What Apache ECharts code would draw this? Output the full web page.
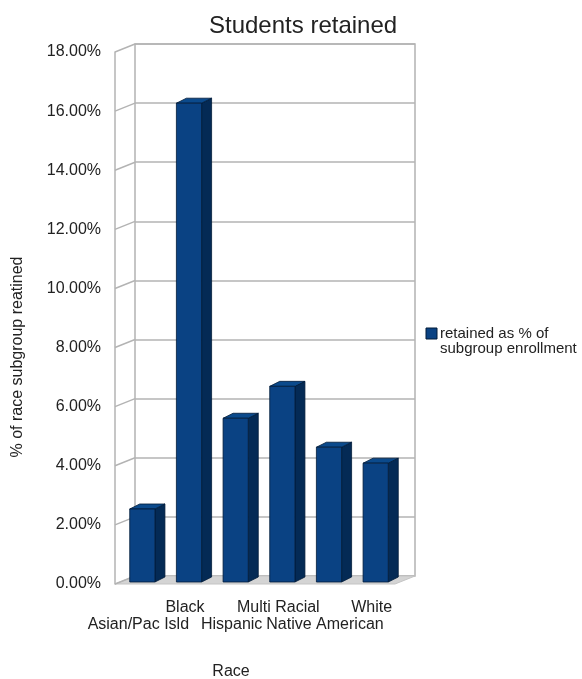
<!DOCTYPE html>
<html>
<head>
<meta charset="utf-8">
<script src="https://cdn.jsdelivr.net/npm/echarts@6/dist/echarts.min.js"></script>
<style>
html,body{margin:0;padding:0;background:#fff;}
#chart{width:582px;height:679px;}
</style>
</head>
<body>
<div id="chart"></div>
<script>
const categories = ['Asian/Pac Isld', 'Black', 'Hispanic', 'Multi Racial', 'Native American', 'White'];
const retainedPct = [2.47, 16.2, 5.54, 6.62, 4.56, 4.02];
const tickValues = [0, 2, 4, 6, 8, 10, 12, 14, 16, 18];
const seriesName = 'retained as % of\nsubgroup enrollment';
const titleText = 'Students retained';
const yAxisTitle = '% of race subgroup reatined';
const xAxisTitle = 'Race';

const FONT = 'Liberation Sans';
const TXT = '#222';
const GRID = '#b3b3b3';
const WALL_DX = 20, WALL_DY = -8;

const chart = echarts.init(document.getElementById('chart'));

function barItem(params, api) {
  const x = api.value(0), v = api.value(1);
  const base = api.coord([x, 0]);
  const top = api.coord([x, v]);
  const bw = api.size([1, 0])[0] * 0.54;
  const ox = 4, oy = -2, dx = 10, dy = -5;
  const l = base[0] - bw / 2 + ox, r = base[0] + bw / 2 + ox;
  const b = base[1] + oy, t = top[1] + oy;
  const stroke = {stroke: '#001a38', lineWidth: 0.8};
  return {
    type: 'group',
    children: [
      {type: 'polygon', shape: {points: [[r, t], [r + dx, t + dy], [r + dx, b + dy], [r, b]]},
       style: Object.assign({fill: '#042a55'}, stroke)},
      {type: 'polygon', shape: {points: [[l, t], [l + dx, t + dy], [r + dx, t + dy], [r, t]]},
       style: Object.assign({fill: '#0b4a8c'}, stroke)},
      {type: 'polygon', shape: {points: [[l, t], [r, t], [r, b], [l, b]]},
       style: Object.assign({fill: '#0a4283'}, stroke)}
    ]
  };
}

function wallItem(params, api) {
  const v = api.value(0);
  const p = api.coord([0, v]);
  const x0 = params.coordSys.x;
  const x1 = params.coordSys.x + params.coordSys.width;
  const children = [
    {type: 'line', shape: {x1: x0, y1: p[1], x2: x0 + WALL_DX, y2: p[1] + WALL_DY},
     style: {stroke: GRID, lineWidth: 1.5}}
  ];
  if (v === 0) {
    children.unshift({type: 'polygon',
      shape: {points: [[x0, p[1]], [x1, p[1]], [x1 + WALL_DX, p[1] + WALL_DY], [x0 + WALL_DX, p[1] + WALL_DY]]},
      style: {fill: '#d4d4d4', stroke: '#c4c4c4', lineWidth: 1}});
  }
  return {type: 'group', children: children};
}

const option = {
  backgroundColor: '#fff',
  animation: false,
  textStyle: {fontFamily: FONT},
  title: {
    text: titleText, left: 204, top: 9,
    textStyle: {fontFamily: FONT, fontSize: 24, fontWeight: 'normal', color: TXT}
  },
  grid: [
    {left: 135, right: 167, top: 44, bottom: 103, show: true, borderColor: GRID, borderWidth: 1.5, backgroundColor: 'transparent'},
    {left: 115, right: 187, top: 52, bottom: 95}
  ],
  xAxis: [
    {gridIndex: 0, type: 'category', data: categories, show: false},
    {gridIndex: 1, type: 'category', data: categories,
     axisLine: {show: false}, axisTick: {show: false},
     axisLabel: {interval: 0, fontFamily: FONT, fontSize: 16, color: TXT, margin: 15, lineHeight: 17,
       formatter: (val, idx) => idx % 2 === 0 ? '\n' + val : val}}
  ],
  yAxis: [
    {gridIndex: 0, type: 'value', min: 0, max: 18, interval: 2,
     axisLabel: {show: false}, axisLine: {show: false}, axisTick: {show: false},
     splitLine: {show: true, lineStyle: {color: GRID, width: 1.5}}},
    {gridIndex: 1, type: 'value', min: 0, max: 18, interval: 2,
     axisLine: {show: true, lineStyle: {color: GRID, width: 1.5}}, axisTick: {show: false},
     splitLine: {show: false},
     axisLabel: {fontFamily: FONT, fontSize: 16, color: TXT, margin: 14, padding: [4, 0, 0, 0],
       formatter: v => v.toFixed(2) + '%'}}
  ],
  series: [
    {type: 'custom', name: 'walls', xAxisIndex: 1, yAxisIndex: 1, silent: true, z: 1,
     renderItem: wallItem, data: tickValues.map(v => [v]), encode: {y: 0}},
    {type: 'custom', name: seriesName, xAxisIndex: 1, yAxisIndex: 1, z: 5,
     renderItem: barItem, itemStyle: {color: '#0a4283'},
     data: retainedPct.map((v, i) => [i, v]), encode: {x: 0, y: 1}}
  ],
  graphic: [
    {type: 'text', x: 18, y: 357, rotation: Math.PI / 2,
     style: {text: yAxisTitle, fontFamily: FONT, fontSize: 16, fill: TXT, align: 'center', verticalAlign: 'middle'}},
    {type: 'text', x: 231, y: 672,
     style: {text: xAxisTitle, fontFamily: FONT, fontSize: 16, fill: TXT, align: 'center', verticalAlign: 'middle'}},
    {type: 'rect', x: 426, y: 328, shape: {width: 11, height: 11},
     style: {fill: '#0a4283', stroke: '#001a38', lineWidth: 1}},
    {type: 'text', x: 440, y: 326,
     style: {text: seriesName, fontFamily: FONT, fontSize: 15, lineHeight: 15, fill: TXT}}
  ]
};
chart.setOption(option);
</script>
</body>
</html>
